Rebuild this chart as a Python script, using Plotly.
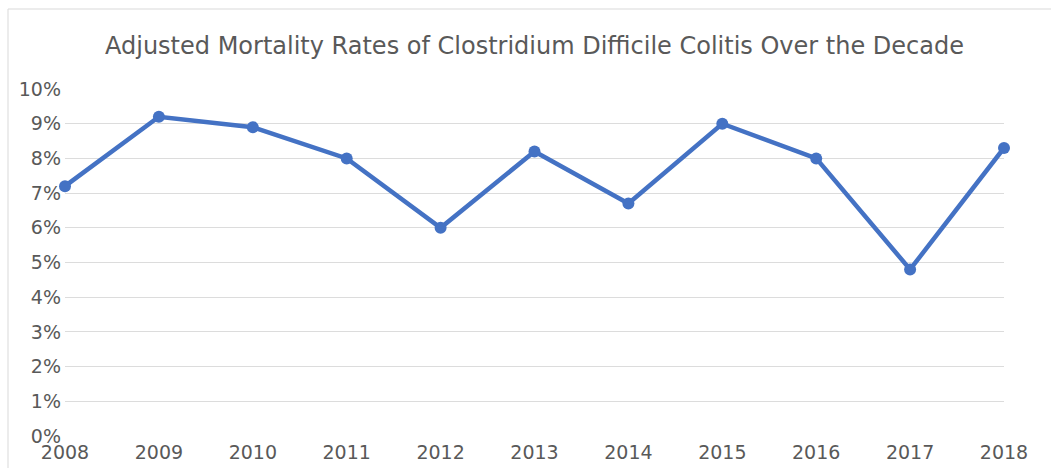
import plotly.graph_objects as go

years = [2008, 2009, 2010, 2011, 2012, 2013, 2014, 2015, 2016, 2017, 2018]
mortality_pct = [7.2, 9.2, 8.9, 8.0, 6.0, 8.2, 6.7, 9.0, 8.0, 4.8, 8.3]
title_text = "Adjusted Mortality Rates of Clostridium Difficile Colitis Over the Decade"
y_ticks = list(range(0, 11))
y_tick_labels = [f"{v}%" for v in y_ticks]

W, H = 1051, 468
ml, mr, mt, mb = 65, 47, 89, 32
pw, ph = W - ml - mr, H - mt - mb

fig = go.Figure()
fig.add_trace(go.Scatter(
    x=years, y=mortality_pct, mode="lines+markers",
    line=dict(color="#4472C4", width=4.5),
    marker=dict(color="#4472C4", size=12),
    cliponaxis=False, showlegend=False,
))

fig.update_layout(
    width=W, height=H,
    margin=dict(l=ml, r=mr, t=mt, b=mb, autoexpand=False),
    paper_bgcolor="white", plot_bgcolor="white",
    font=dict(family="DejaVu Sans", color="#595959", size=19),
    title=dict(text=title_text, x=0.5, xref="paper", xanchor="center",
               y=1 - 46 / H, yanchor="middle",
               font=dict(size=24, color="#595959")),
    xaxis=dict(range=[2008, 2018], tickvals=years, ticktext=[str(y) for y in years],
               showgrid=False, zeroline=False, showline=False, ticks="",
               ticklabelstandoff=3, automargin=False),
    yaxis=dict(range=[0, 10], tickvals=y_ticks, ticktext=y_tick_labels,
               showgrid=True, gridcolor="#dcdcdc", gridwidth=1,
               zeroline=False, showline=False, ticks="", ticklabelstandoff=3,
               automargin=False),
    shapes=[
        dict(type="line", xref="paper", yref="paper",
             x0=(8 - ml) / pw, x1=(W + 5 - ml) / pw,
             y0=(H - mb - 9) / ph, y1=(H - mb - 9) / ph,
             line=dict(color="#d9d9d9", width=1)),
        dict(type="line", xref="paper", yref="paper",
             x0=(8 - ml) / pw, x1=(8 - ml) / pw,
             y0=(H - mb - 9) / ph, y1=-(mb + 5) / ph,
             line=dict(color="#d9d9d9", width=1)),
    ],
)

fig.write_html("out.html")
